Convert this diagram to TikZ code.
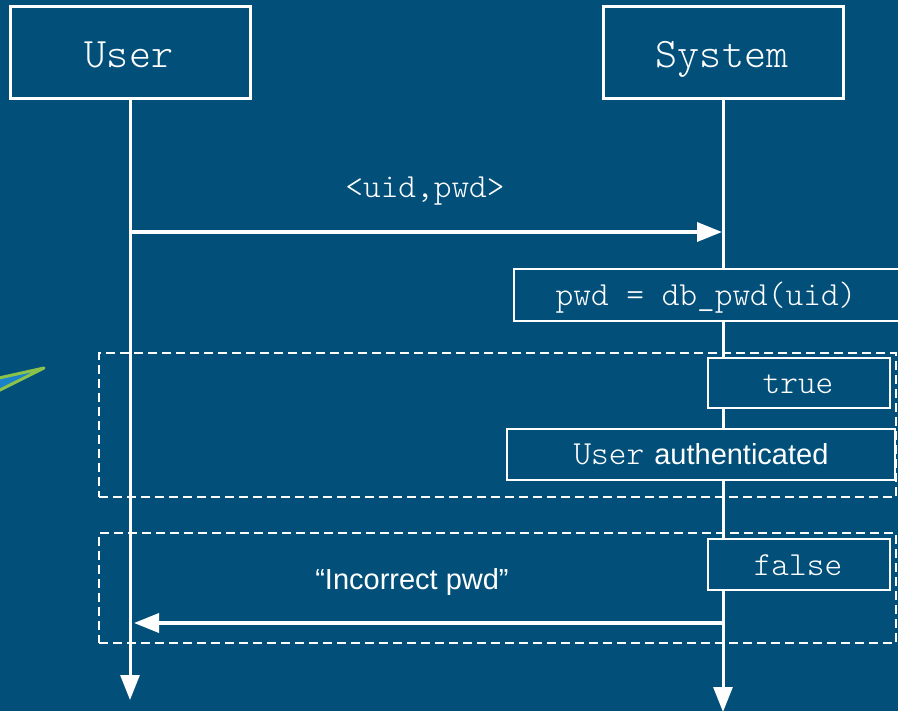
\documentclass[tikz,border=0pt]{standalone}
\usepackage{fontspec}
\setmainfont{Liberation Sans}
\setsansfont{Liberation Sans}
\setmonofont{lmmonolt10-regular.otf}
\usetikzlibrary{arrows.meta}
\definecolor{bgblue}{RGB}{2,80,122}
\definecolor{leafgreen}{RGB}{139,195,74}
\definecolor{leafblue}{RGB}{25,130,200}
\begin{document}
\begin{tikzpicture}[x=1pt,y=-1pt,
  actorbox/.style={draw=white, line width=3pt, fill=bgblue, minimum width=240pt, minimum height=92pt, inner sep=0pt},
  notebox/.style={draw=white, line width=2pt, fill=bgblue, inner sep=0pt},
  frame/.style={draw=white, line width=2pt, dash pattern=on 9pt off 5pt, inner sep=0pt},
  lifeline/.style={white, line width=3pt, -{Triangle[length=25pt,width=19pt]}},
  msg/.style={white, line width=3.5pt, -{Triangle[length=25pt,width=19pt]}},
  bigmono/.style={text=white, font=\fontsize{42}{46}\selectfont\ttfamily, anchor=base, inner sep=0pt},
  mono/.style={text=white, font=\fontsize{33.7}{38}\selectfont\ttfamily, anchor=base, inner sep=0pt},
  sans/.style={text=white, font=\fontsize{29}{34}\selectfont\sffamily, anchor=base, inner sep=0pt},
]
\fill[bgblue] (0,0) rectangle (898,711);
\useasboundingbox (0,0) rectangle (898,711);

% partial leaf shape at the left edge
\filldraw[draw=leafgreen, fill=leafblue, line width=3pt, line join=round] (44,368) -- (-10,380) -- (-10,395) -- cycle;

% dashed frames
\node[frame, minimum width=797pt, minimum height=144pt] (alt1) at (497.5,425) {};
\node[frame, minimum width=797pt, minimum height=110pt] (alt2) at (497.5,588) {};

% actor boxes
\node[actorbox] (user) at (130,53) {};
\node[actorbox] (system) at (723,53) {};

% lifelines
\coordinate (uend) at (130,700);
\coordinate (send) at (723,712);
\draw[lifeline] (user.south) -- (uend);
\draw[lifeline] (system.south) -- (send);

% messages
\coordinate (m1s) at (130,232);
\coordinate (m1e) at (722,232);
\draw[msg] (m1s) -- (m1e);
\coordinate (m2s) at (723,623);
\coordinate (m2e) at (134,623);
\draw[msg] (m2s) -- (m2e);

% note boxes
\node[notebox, minimum width=396pt, minimum height=52pt] (dbbox) at (712,295) {};
\node[notebox, minimum width=182pt, minimum height=50pt] (truebox) at (799,383) {};
\node[notebox, minimum width=388pt, minimum height=51pt] (authbox) at (701,454.5) {};
\node[notebox, minimum width=182pt, minimum height=51pt] (falsebox) at (799,564.5) {};

% texts
\node[bigmono] (usert) at (129,68) {User};
\node[bigmono] (systemt) at (722,68) {System};
\node[mono] (m1t) at (425,198) {<uid,pwd>};
\node[mono] (dbt) at (706,306) {pwd = db\_pwd(uid)};
\node[mono] (truet) at (798,394) {true};
\node[mono] (autht) at (701,465) {User\hspace{10pt}{\sffamily\fontsize{29}{34}\selectfont authenticated}};
\node[mono] (falset) at (798,575) {false};
\node[sans] (m2t) at (412,589) {“Incorrect pwd”};
\end{tikzpicture}
\end{document}
